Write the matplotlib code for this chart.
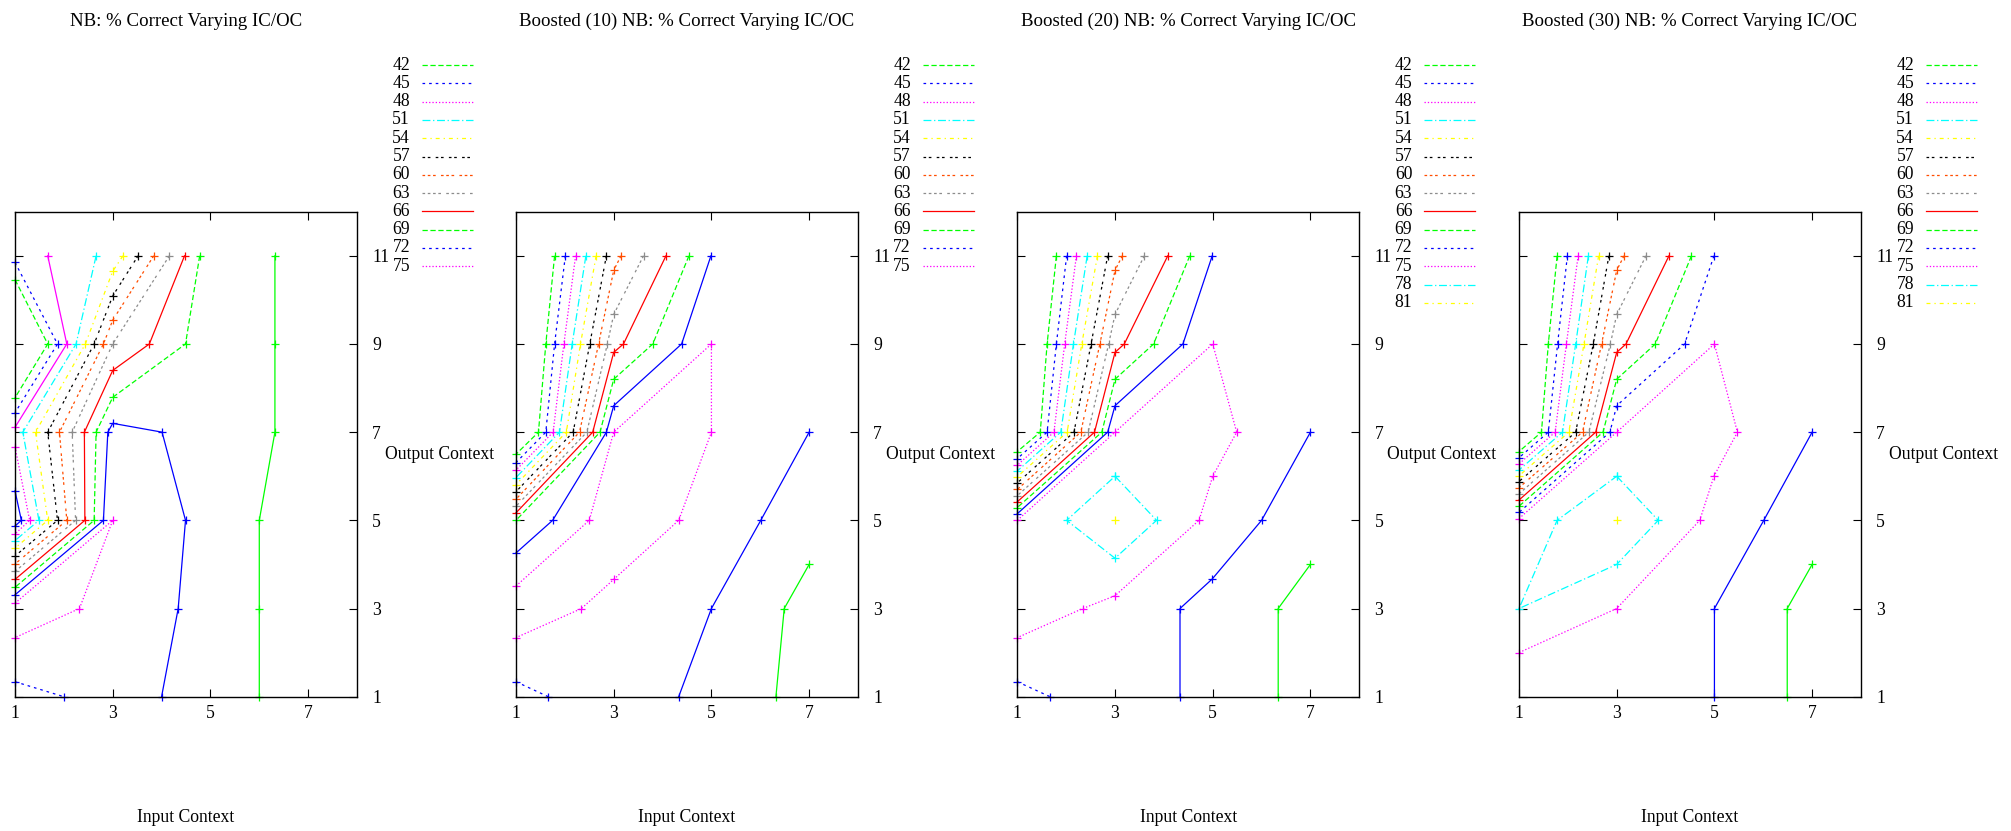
import matplotlib
matplotlib.use("Agg")
import matplotlib.pyplot as plt
from matplotlib.lines import Line2D

plt.rcParams['font.family'] = ['Liberation Serif', 'DejaVu Serif']
plt.rcParams['lines.scale_dashes'] = False

TITLES = ["NB: % Correct Varying IC/OC",
          "Boosted (10) NB: % Correct Varying IC/OC",
          "Boosted (20) NB: % Correct Varying IC/OC",
          "Boosted (30) NB: % Correct Varying IC/OC"]
X_TICKS = [1, 3, 5, 7]
Y_TICKS = [1, 3, 5, 7, 9, 11]
KEY_LEVELS = [[42, 45, 48, 51, 54, 57, 60, 63, 66, 69, 72, 75],
              [42, 45, 48, 51, 54, 57, 60, 63, 66, 69, 72, 75],
              [42, 45, 48, 51, 54, 57, 60, 63, 66, 69, 72, 75, 78, 81],
              [42, 45, 48, 51, 54, 57, 60, 63, 66, 69, 72, 75, 78, 81]]

# --- NB ---
p1_level = [42, 45, 45, 48, 48, 51, 54, 57, 60, 63, 66, 69, 69, 72, 72, 75]
p1_x = [[1, 1.67, 1], [1, 1.87, 1], [1, 1.13, 1], [1.67, 2.06, 1], [1, 1.30, 1],
        [2.66, 2.25, 1.16, 1.49, 1],
        [3.21, 3.0, 2.44, 1.42, 1.67, 1],
        [3.52, 3.0, 2.62, 1.67, 1.87, 1],
        [3.84, 3.0, 2.81, 1.91, 2.06, 1],
        [4.16, 3.0, 2.17, 2.24, 1],
        [4.47, 3.75, 3.0, 2.42, 2.43, 1],
        [4.78, 4.49, 3.0, 2.66, 2.62, 1],
        [6.32, 6.32, 6.32, 6.0, 6.0, 6.0],
        [1, 2.81, 2.90, 3.0, 4.01, 4.49, 4.34, 4.0],
        [1, 2.0],
        [1, 3.0, 2.32, 1]]
p1_y = [[10.46, 9, 7.78], [10.85, 9, 7.44], [5.67, 5, 4.87], [11, 9, 7.11], [6.67, 5, 4.69],
        [11, 9, 7, 5, 4.54],
        [11, 10.65, 9, 7, 5, 4.37],
        [11, 10.09, 9, 7, 5, 4.19],
        [11, 9.54, 9, 7, 5, 4.01],
        [11, 9, 7, 5, 3.84],
        [11, 9, 8.40, 7, 5, 3.66],
        [11, 9, 7.79, 7, 5, 3.48],
        [11, 9, 7, 5, 3, 1],
        [3.31, 5, 7, 7.20, 7, 5, 3, 1],
        [1.34, 1],
        [3.12, 5, 3, 2.34]]
p1_solid = [2, 3, 12, 13]

# --- Boosted (10) ---
p2_level = [42, 45, 48, 51, 54, 57, 60, 63, 66, 69, 69, 72, 72, 72, 75]
p2_x = [[1.79, 1.61, 1.46, 1], [2.01, 1.79, 1.61, 1], [2.22, 1.98, 1.76, 1],
        [2.43, 2.15, 1.89, 1], [2.64, 2.32, 2.03, 1], [2.85, 2.51, 2.17, 1],
        [3.15, 3.0, 2.69, 2.30, 1], [3.61, 3.0, 2.87, 2.45, 1],
        [4.07, 3.20, 3.0, 2.57, 1], [4.54, 3.80, 3.0, 2.72, 1],
        [6.32, 6.49, 7.0],
        [4.99, 4.39, 3.0, 2.85, 1.75, 1],
        [4.33, 5.0, 6.01, 7.0],
        [1, 1.66],
        [1, 2.50, 3.0, 5.0, 5.0, 4.33, 3.0, 2.34, 1]]
p2_y = [[11, 9, 7, 6.50], [11, 9, 7, 6.31], [11, 9, 7, 6.14],
        [11, 9, 7, 5.97], [11, 9, 7, 5.81], [11, 9, 7, 5.65],
        [11, 10.67, 9, 7, 5.48], [11, 9.67, 9, 7, 5.32],
        [11, 9, 8.81, 7, 5.17], [11, 9, 8.20, 7, 5.0],
        [1, 3, 4.0],
        [11, 9, 7.60, 7, 5, 4.26],
        [1, 3, 5, 7],
        [1.34, 1],
        [3.51, 5, 7, 9, 7, 5, 3.66, 3, 2.34]]
p2_solid = [10, 11, 12]

# --- Boosted (20) ---
p3_level = [42, 45, 48, 51, 54, 57, 60, 63, 66, 69, 69, 72, 72, 72, 75, 78, 81]
p3_x = [[1.80, 1.61, 1.47, 1], [2.01, 1.80, 1.61, 1], [2.21, 1.97, 1.75, 1],
        [2.43, 2.15, 1.89, 1], [2.64, 2.32, 2.02, 1], [2.85, 2.51, 2.16, 1],
        [3.15, 3.0, 2.69, 2.30, 1], [3.60, 3.0, 2.87, 2.45, 1],
        [4.08, 3.19, 3.0, 2.58, 1], [4.53, 3.79, 3.0, 2.73, 1],
        [6.34, 6.34, 7.0],
        [4.99, 4.39, 3.0, 2.85, 1],
        [4.33, 4.33, 4.99, 6.0, 7.0],
        [1, 1.67],
        [1, 3.0, 5.0, 5.49, 5.0, 4.72, 3.0, 2.34, 1],
        [3.0, 3.85, 3.0, 2.01, 3.0],
        [3.0]]
p3_y = [[11, 9, 7, 6.56], [11, 9, 7, 6.40], [11, 9, 7, 6.25],
        [11, 9, 7, 6.12], [11, 9, 7, 5.99], [11, 9, 7, 5.85],
        [11, 10.67, 9, 7, 5.70], [11, 9.67, 9, 7, 5.56],
        [11, 9, 8.81, 7, 5.42], [11, 9, 8.20, 7, 5.29],
        [1, 3, 4.0],
        [11, 9, 7.60, 7, 5.15],
        [1, 3, 3.67, 5, 7],
        [1.34, 1],
        [5.0, 7, 9, 7, 6.0, 5, 3.29, 3, 2.34],
        [6.0, 5, 4.14, 5, 6.0],
        [5.0]]
p3_solid = [10, 11, 12]

# --- Boosted (30) ---
p4_level = [42, 45, 48, 51, 54, 57, 60, 63, 66, 69, 69, 72, 72, 75, 78, 81]
p4_x = [[1.78, 1.60, 1.46, 1], [1.99, 1.79, 1.60, 1], [2.21, 1.97, 1.74, 1],
        [2.42, 2.16, 1.89, 1], [2.63, 2.33, 2.02, 1], [2.84, 2.52, 2.16, 1],
        [3.15, 3.0, 2.69, 2.30, 1], [3.60, 3.0, 2.87, 2.43, 1],
        [4.07, 3.19, 3.0, 2.57, 1], [4.53, 3.79, 3.0, 2.72, 1],
        [6.49, 6.49, 7.0],
        [4.99, 4.39, 3.0, 2.86, 1],
        [5.0, 5.0, 6.01, 7.0],
        [1, 3.0, 5.0, 5.47, 4.99, 4.70, 3.0, 1],
        [3.0, 3.85, 3.0, 1, 1.78, 3.0],
        [3.0]]
p4_y = [[11, 9, 7, 6.56], [11, 9, 7, 6.42], [11, 9, 7, 6.28],
        [11, 9, 7, 6.14], [11, 9, 7, 6.01], [11, 9, 7, 5.88],
        [11, 10.67, 9, 7, 5.74], [11, 9.67, 9, 7, 5.60],
        [11, 9, 8.81, 7, 5.46], [11, 9, 8.20, 7, 5.32],
        [1, 3, 4.0],
        [11, 9, 7.60, 7, 5.18],
        [1, 3, 5, 7],
        [5.04, 7, 9, 7, 6.0, 5, 3, 2.0],
        [6.0, 5, 4.0, 3, 5, 6.0],
        [5.0]]
p4_solid = [10, 12]

PANELS = [(p1_level, p1_x, p1_y, p1_solid), (p2_level, p2_x, p2_y, p2_solid),
          (p3_level, p3_x, p3_y, p3_solid), (p4_level, p4_x, p4_y, p4_solid)]

# gnuplot postscript line types, cycling after 9
LT_COLORS = ['#ff0000', '#00ff00', '#0000ff', '#ff00ff', '#00ffff',
             '#ffff00', '#000000', '#ff4d00', '#8c8c8c']
LT_DASHES = [None, [4, 2], [2, 3], [1, 1.5], [6, 2, 1, 2], [3, 3, 1, 3],
             [2, 2, 2, 4], [2, 2, 2, 2, 2, 4], [2, 2, 2, 2, 2, 2, 2, 4]]
DL = 0.95
LW = 0.9


def level_style(level, solid=False):
    k = ((level - 42) // 3 + 1) % 9
    d = LT_DASHES[k]
    if solid or d is None:
        ls = '-'
    else:
        ls = (0, [v * DL for v in d])
    return LT_COLORS[k], ls


W, H = 2011, 831
fig = plt.figure(figsize=(W / 100, H / 100), dpi=100)
lefts = [15, 516, 1017.3, 1519]
box_w, box_h, box_bottom = 342, 485, 696.7

for i, (levels, xs, ys, solids) in enumerate(PANELS):
    ax = fig.add_axes([lefts[i] / W, (H - box_bottom) / H, box_w / W, box_h / H])
    for j, (lev, x, y) in enumerate(zip(levels, xs, ys)):
        col, ls = level_style(lev, j in solids)
        ax.plot(x, y, color=col, linestyle=ls, lw=LW, marker='+',
                markersize=5.8, markeredgewidth=0.9, clip_on=False)
    ax.set_xlim(1, 8)
    ax.set_ylim(1, 12)
    ax.set_xticks(X_TICKS)
    ax.set_yticks(Y_TICKS)
    ax.tick_params(axis='x', direction='in', top=True, bottom=True,
                   length=5.8, width=0.8, pad=6, labelsize=12.7)
    ax.tick_params(axis='y', direction='in', left=True, right=True,
                   labelleft=False, labelright=True,
                   length=5.8, width=0.8, pad=11, labelsize=12.7)
    for sp in ax.spines.values():
        sp.set_linewidth(1.0)

    # key, outside the box at top right
    for r, lev in enumerate(KEY_LEVELS[i]):
        yk = (box_bottom - (65 + 18.3 * r)) / box_h
        col, ls = level_style(lev)
        ax.text(1 + 53 / box_w, yk, str(lev), transform=ax.transAxes,
                ha='right', va='center', fontsize=12.7)
        ax.add_line(Line2D([1 + 65 / box_w, 1 + 116 / box_w], [yk, yk],
                           color=col, linestyle=ls, lw=LW,
                           transform=ax.transAxes, clip_on=False))

    ax.text(1 + 28 / box_w, 0.5, "Output Context", transform=ax.transAxes,
            ha='left', va='center', fontsize=12.7)
    cx = (lefts[i] + box_w / 2) / W
    fig.text(cx, 1 - 21 / H, TITLES[i], ha='center', va='center', fontsize=13.6)
    fig.text(cx, 1 - 817 / H, "Input Context", ha='center', va='center', fontsize=12.7)

fig.savefig("out.png", dpi=100, facecolor='white')
